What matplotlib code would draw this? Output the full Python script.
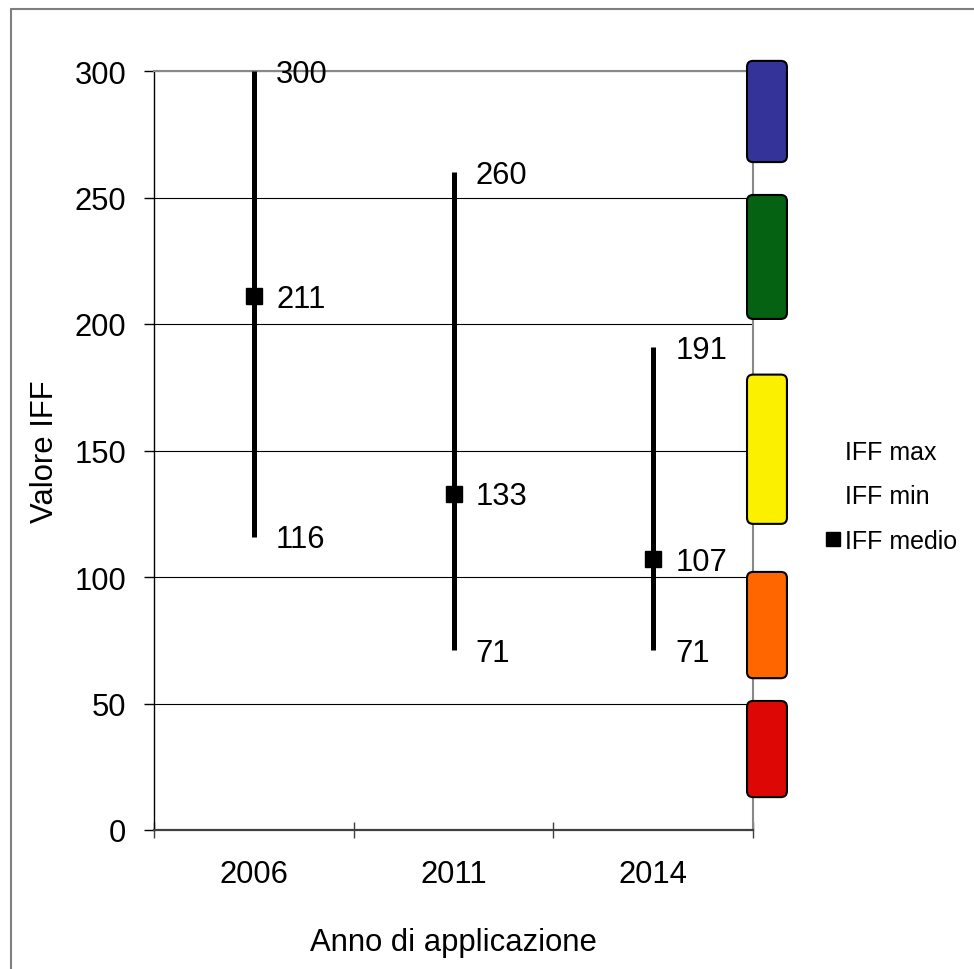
import matplotlib
matplotlib.use("Agg")
import matplotlib.pyplot as plt
from matplotlib.lines import Line2D
from matplotlib.patches import FancyBboxPatch, Rectangle

years = ["2006", "2011", "2014"]
iff_max = [300, 260, 191]
iff_min = [116, 71, 71]
iff_mean = [211, 133, 107]

# class boxes on the right edge (top, bottom)
class_top = [304, 251, 180, 102, 51]
class_bottom = [264, 202, 121, 60, 13]
class_colors = ["#333399", "#046212", "#FAF000", "#FF6600", "#DD0806"]

plt.rcParams.update({
    "font.family": ["Liberation Sans", "DejaVu Sans"],
    "font.size": 22.3,
})

fig = plt.figure(figsize=(9.74, 9.70), dpi=100)
ax = fig.add_axes([154 / 974, 139 / 970, 599 / 974, 759 / 970])

xs = list(range(len(years)))
ax.vlines(xs, iff_min, iff_max, color="black", linewidth=3.6, zorder=3)
ax.plot(xs, iff_mean, linestyle="none", marker="s", markersize=11,
        color="black", zorder=4)

for x, vals in zip(xs, zip(iff_max, iff_mean, iff_min)):
    for v in vals:
        ax.annotate(str(v), (x, v), xytext=(16, -2), textcoords="offset points",
                    ha="left", va="center", fontsize=22.3)

for top, bottom, c in zip(class_top, class_bottom, class_colors):
    box = FancyBboxPatch((2.47, bottom), 0.2, top - bottom,
                         boxstyle="round,pad=0,rounding_size=0.03",
                         mutation_aspect=80, facecolor=c, edgecolor="black",
                         linewidth=1.5, clip_on=False, zorder=5)
    ax.add_patch(box)

ax.set_xlim(-0.5, 2.5)
ax.set_ylim(0, 300)
ax.set_yticks(range(0, 301, 50))
ax.set_xticks(xs)
ax.set_xticklabels(years)
ax.set_xticks([-0.5, 0.5, 1.5, 2.5], minor=True)
ax.tick_params(axis="x", which="major", length=0, pad=21)
ax.tick_params(axis="x", which="minor", direction="inout", length=12,
               width=1, color="#404040")
ax.tick_params(axis="y", direction="out", length=7, width=1, pad=13)

ax.yaxis.grid(True, color="black", linewidth=0.8)
ax.set_axisbelow(True)
ax.spines["left"].set_color("black")
ax.spines["left"].set_linewidth(1)
ax.spines["bottom"].set_color("#404040")
ax.spines["bottom"].set_linewidth(1.6)
ax.spines["top"].set_color("#888888")
ax.spines["top"].set_linewidth(1.5)
ax.spines["right"].set_color("#888888")
ax.spines["right"].set_linewidth(1.5)

ax.set_ylabel("Valore IFF")
ax.yaxis.set_label_coords(-0.157, 0.5)
ax.set_xlabel("Anno di applicazione", labelpad=27)

handles = [
    Line2D([], [], linestyle="none", label="IFF max"),
    Line2D([], [], linestyle="none", label="IFF min"),
    Line2D([], [], linestyle="none", marker="s", markersize=10,
           color="black", label="IFF medio"),
]
fig.legend(handles=handles, loc="upper left",
           bbox_to_anchor=(824 / 974, 1 - 441 / 970), frameon=False,
           fontsize=18, handlelength=0.7, handletextpad=0.15,
           labelspacing=0.82, borderaxespad=0, borderpad=0)

fig.add_artist(Rectangle((11 / 974, -0.1), 1.2, 1.1 - 10 / 970,
                         transform=fig.transFigure, fill=False,
                         edgecolor="#7f7f7f", linewidth=1.5))

fig.savefig("out.png", dpi=100)
